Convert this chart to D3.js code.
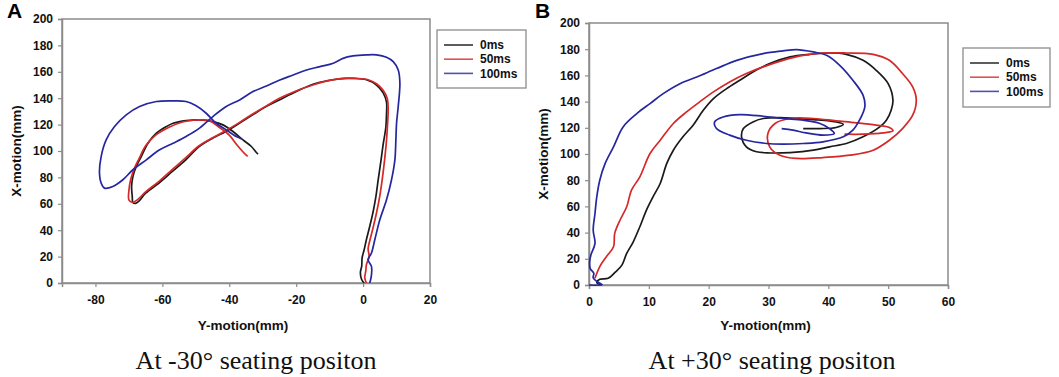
<!DOCTYPE html>
<html>
<head>
<meta charset="utf-8">
<script src="https://cdn.jsdelivr.net/npm/d3@7"></script>
<style>
  body { margin: 0; background: #fff; }
  svg { display: block; }
  .tick text { font-family: "Liberation Sans", Arial, sans-serif; font-weight: bold; font-size: 12px; fill: #111; }
  .ttl { font-family: "Liberation Sans", Arial, sans-serif; font-weight: bold; font-size: 13.5px; fill: #111; }
  .leg { font-family: "Liberation Sans", Arial, sans-serif; font-weight: bold; font-size: 12px; fill: #111; }
  .cap { font-family: "Liberation Serif", "Times New Roman", serif; font-size: 26px; fill: #111; }
  .plbl { font-family: "Liberation Sans", Arial, sans-serif; font-weight: bold; font-size: 21px; fill: #000; }
</style>
</head>
<body>
<svg width="1059" height="377"></svg>
<script>
const seriesNames = ["0ms", "50ms", "100ms"]
const seriesColors = ["#1a1a1a", "#d62828", "#2626a0"]
const legendColors = ["#333", "#e05050", "#5050b0"]

const yTicks = [0, 20, 40, 60, 80, 100, 120, 140, 160, 180, 200]
const xTicksA = [-80, -60, -40, -20, 0, 20]
const xTicksB = [0, 10, 20, 30, 40, 50, 60]

// panel A  (-30 deg)
const aBlack = [[0.3,0],[-0.5,3],[-0.8,8],[-0.4,13],[-0.3,19],[0.3,25],[1,33],[2,43],[3,54],[3.8,65],[4.5,78],[5.3,92],[6,105],[6.8,118],[7,128],[7,137],[6,144],[4,150],[1,154],[-3,155],[-5,155],[-9,154],[-14,151.3],[-19,146.3],[-24,140],[-29,133.7],[-33,127.4],[-37,121],[-41,114.8],[-45,109.7],[-49,103.4],[-53,93.3],[-57,84.5],[-61,75.7],[-65,68],[-67,62],[-68,60.3],[-68.8,61],[-69,65.6],[-69.2,73],[-68.8,80.7],[-67.8,88.3],[-66.3,95.8],[-64.3,105.9],[-61.8,113.5],[-58.8,118.5],[-56.8,121],[-52.9,123],[-48.9,123.6],[-44.9,122.3],[-41.9,119.8],[-38.9,114.8],[-35.9,108.4],[-33.4,103.4],[-31.9,98.9],[-31.4,97.6]]
const aRed = [[1,0],[0.5,4],[0.8,9],[1,14],[1.8,20],[1.5,26],[2,32],[3,42],[4,53],[5,66],[5.8,80],[6.5,95],[7,108],[7.3,120],[7.5,132],[7.2,140],[6,146],[4,151],[1.5,154],[-2,155],[-6,155],[-10,153.5],[-15,150],[-20,145.5],[-25,140],[-29,134],[-33,128],[-37,121.5],[-41,115.5],[-45,110],[-49,104],[-53,95],[-57,86],[-61,77],[-65,69],[-67.5,63],[-69,61],[-70,63],[-70,70],[-69.5,78],[-68.5,86],[-67,94],[-65,104],[-62,112],[-58,118],[-54,122],[-50,123.5],[-46,123],[-43,118],[-40,112],[-37.5,104],[-35,97],[-34.5,96]]
const aBlue = [[2,0],[2.5,6],[2.5,12.6],[1.5,17.7],[2.5,22.7],[3.5,32.8],[5,47.9],[7,63],[8.5,78.2],[9.5,93.3],[9.8,108.4],[10,121],[10.5,133.7],[11,151.3],[10.5,161.4],[9,167.7],[7,171],[4,172.8],[1,172.8],[-3,172],[-6,170.2],[-8.9,166.5],[-12.9,163.9],[-16.9,161.4],[-20.9,157.6],[-24.9,153.8],[-28.9,149.3],[-32.9,145],[-36.9,138.7],[-40.9,133.7],[-44.9,126.1],[-48.9,117.3],[-52.9,111],[-56.8,105.9],[-60.8,100.9],[-64.8,93.3],[-68.8,85.8],[-71.8,78.2],[-74.8,73.1],[-77.3,71.9],[-78.3,75.7],[-78.8,83.2],[-78.3,95.8],[-76.8,108.4],[-74.3,118.5],[-70.8,127.4],[-66.8,133.7],[-61.8,137.5],[-56.8,138],[-52.9,137.5],[-49.9,134.2],[-46.9,128.6],[-43.9,121],[-40.9,116],[-37.9,111],[-36.4,109.3]]

// panel B  (+30 deg)
const bBlack = [[2.1,0],[1.3,1.8],[1.8,4.3],[3.2,5.1],[4.3,9.4],[5.5,15.2],[6.3,24.1],[7.4,33],[8.5,44.5],[9.6,57.2],[10.7,67.3],[11.9,77.5],[13,92.8],[14.1,102.9],[15.7,113.1],[17.4,122],[19.1,133.4],[20.8,142.3],[23,149.9],[25.2,156.3],[27.4,162.6],[30.2,169],[33.6,174.1],[36.9,176.1],[40.2,177.1],[43,176.1],[45.8,171.5],[48,163.9],[50,153.7],[50.8,141],[50.5,133.4],[49.7,125.8],[48.6,120.7],[45.8,113.1],[43,108],[40.2,105.5],[37.5,102.9],[33.6,101.1],[29.7,100.9],[28,101.7],[26.3,105.5],[25.5,113.1],[25.8,119.4],[27.4,124.5],[29.1,127.1],[31.9,127.8],[34.7,127.1],[37.5,126.3],[40.2,125.3],[42.5,122.7],[41.3,120.2],[38.6,119.4],[35.8,119.4]]
const bRed = [[1,5.1],[1.8,14],[2.9,21.6],[4.1,29.2],[4.3,39.4],[5.2,49.6],[6.3,59.7],[7.1,72.4],[8.5,82.6],[10.2,100.4],[11.9,110.5],[14.1,123.3],[16.3,132.1],[18.5,139.8],[20.8,147.4],[23.5,155],[26.3,161.4],[29.1,166.5],[32.4,171.5],[35.8,175.3],[39.1,177.1],[43,177.1],[47.5,176.1],[50.2,171.5],[52.4,161.4],[54.1,151.2],[54.7,141],[54.1,129.6],[52.4,119.4],[50.2,110.5],[47.5,102.9],[43.6,99.1],[39.1,97.3],[34.7,96.6],[31.9,99.1],[30.2,105.5],[29.9,115.6],[31.1,123.3],[33.6,127.1],[37.5,127.1],[41.3,125.3],[44.7,123.8],[48,122],[50.2,120.2],[50.8,117.7],[49.1,116.1],[45.8,115.1],[42.7,115.1]]
const bBlue = [[0,0],[2.2,0.3],[1.4,2.5],[0.7,5.5],[0.8,9],[0.2,12.5],[0.1,17],[0.3,22.7],[1,31.8],[0.7,41.9],[1,54.6],[1.3,67.3],[1.8,80],[2.7,92.8],[4.1,105.5],[5.7,120.7],[8,130.9],[10.2,138.5],[12.4,146.1],[15.2,153.7],[18,158.8],[21.3,165.2],[24.7,171.5],[29.1,176.6],[32.4,178.7],[34.7,179.7],[37.5,177.9],[39.7,175.3],[41.9,167.7],[44.1,156.3],[45.8,144.9],[46.1,136],[45.2,125.8],[44.1,118.2],[42.5,113.1],[39.1,109.3],[35.8,108],[32.4,107.5],[29.7,108],[26.3,110.5],[23.5,114.4],[21.3,119.4],[21,124.5],[22.4,128.3],[25.2,130.1],[29.1,128.8],[32.4,127.1],[35.8,125.8],[38.6,123.3],[40.2,119.4],[41,115.6],[39.1,114.4],[36.3,116.1],[34.1,118.2],[32.2,119.4]]

const svg = d3.select("svg")

// plain hyphen for negatives, like the original
const fmt = d => String(d)

const panels = [
  { label: "A", lx: 7, ly: 18, left: 62, right: 430, top: 19, bottom: 283, xDomain: [-90, 20], xTicks: xTicksA,
    series: [aBlack, aRed, aBlue], yTitleX: 16, legend: { x: 437, y: 30, w: 89, h: 58 }, caption: "At -30° seating positon", capX: 256 },
  { label: "B", lx: 535, ly: 18, left: 589, right: 948, top: 23, bottom: 285, xDomain: [0, 60], xTicks: xTicksB,
    series: [bBlack, bRed, bBlue], yTitleX: 543, legend: { x: 963, y: 48, w: 87, h: 59 }, caption: "At +30° seating positon", capX: 772 }
]

panels.forEach(p => {
  const g = svg.append("g")
  const x = d3.scaleLinear().domain(p.xDomain).range([p.left, p.right])
  const y = d3.scaleLinear().domain([0, 200]).range([p.bottom, p.top])

  // frame
  g.append("rect")
    .attr("x", p.left).attr("y", p.top)
    .attr("width", p.right - p.left).attr("height", p.bottom - p.top)
    .attr("fill", "none").attr("stroke", "#8c8c8c").attr("stroke-width", 1.5)

  const xa = g.append("g").attr("transform", `translate(0,${p.bottom})`)
    .call(d3.axisBottom(x).tickValues(p.xTicks).tickFormat(fmt).tickSize(4).tickPadding(8))
  const ya = g.append("g").attr("transform", `translate(${p.left},0)`)
    .call(d3.axisLeft(y).tickValues(yTicks).tickFormat(fmt).tickSize(4).tickPadding(5))
  ;[xa, ya].forEach(a => {
    a.select(".domain").attr("stroke", "#8c8c8c").attr("stroke-width", 1.5)
    a.selectAll(".tick line").attr("stroke", "#8c8c8c").attr("stroke-width", 1.2)
  })

  const line = d3.line()
    .x(d => x(d[0])).y(d => y(d[1]))
    .curve(d3.curveCatmullRom.alpha(0.5))

  g.selectAll("path.series")
    .data(p.series)
    .join("path")
    .attr("class", "series")
    .attr("d", line)
    .attr("fill", "none")
    .attr("stroke", (d, i) => seriesColors[i])
    .attr("stroke-width", 1.7)
    .attr("stroke-linejoin", "round")

  // axis titles
  g.append("text").attr("class", "ttl")
    .attr("x", (p.left + p.right) / 2 - 3).attr("y", 330)
    .attr("text-anchor", "middle").text("Y-motion(mm)")
  g.append("text").attr("class", "ttl")
    .attr("transform", `translate(${p.yTitleX},${(p.top + p.bottom) / 2}) rotate(-90)`)
    .attr("text-anchor", "middle").attr("dy", "0.35em").text("X-motion(mm)")

  // legend
  const L = p.legend
  g.append("rect").attr("x", L.x).attr("y", L.y).attr("width", L.w).attr("height", L.h)
    .attr("fill", "#fff").attr("stroke", "#8c8c8c").attr("stroke-width", 1.3)
  const li = g.selectAll("g.li").data(seriesNames).join("g").attr("class", "li")
    .attr("transform", (d, i) => `translate(${L.x + 7},${L.y + 15 + i * 14.2})`)
  li.append("line").attr("x1", 0).attr("x2", 29)
    .attr("stroke", (d, i) => legendColors[i]).attr("stroke-width", 1.6)
  li.append("text").attr("class", "leg").attr("x", 36).attr("dy", "0.35em").text(d => d)

  // panel label and caption
  g.append("text").attr("class", "plbl").attr("x", p.lx).attr("y", p.ly).text(p.label)
  g.append("text").attr("class", "cap").attr("x", p.capX).attr("y", 369)
    .attr("text-anchor", "middle").text(p.caption)
})
</script>
</body>
</html>
